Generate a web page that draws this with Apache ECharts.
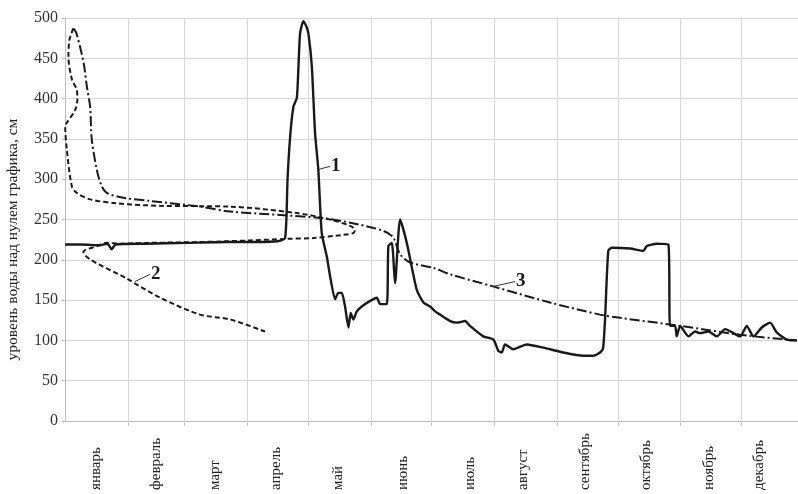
<!DOCTYPE html>
<html>
<head>
<meta charset="utf-8">
<script src="https://cdn.jsdelivr.net/npm/echarts@6/dist/echarts.min.js"></script>
<style>html,body{margin:0;padding:0;background:#fff}#c{width:798px;height:494px}</style>
</head>
<body>
<div id="c"></div>
<script>
// Month names (x-axis labels), their label positions (day of year) and month boundaries
const monthNames = ['январь','февраль','март','апрель','май','июнь','июль','август','сентябрь','октябрь','ноябрь','декабрь'];
const labelDays = [15.5, 45, 74, 104, 135, 167, 200, 226, 257, 287, 318, 343];
const monthStarts = [31, 59, 90, 120, 151, 181, 212, 243, 273, 304, 334];

// y-axis ticks
const yMin = 0, yMax = 500, yStep = 50;
const yTitle = 'уровень воды над нулем графика, см';

// Series 1 (solid): [day, level cm]
const series1 = [
  [0,219],[8,219],[17,218],[21,220],[23,213],[25,219],[40,220],[60,221],[80,222],[95,222],[105,223],[108.7,227],
  [109.9,300],[111.2,353],[112.8,390],[114.5,401],[115.3,440],[116.1,481],[117.7,496],[119.1,490],[120.2,481],
  [121.9,440],[123.5,357],[125.1,312],[126.8,233],[129.3,204],[130.9,180],[133.4,151],[135.0,159],[136.7,159],
  [138.3,142],[140.0,116],[141.1,134],[142.4,126],[144.1,136],[146.6,142],[150.7,149],[154.0,153],[155.6,145],
  [158.9,145],[159.7,217],[161.4,221],[163.0,171],[165.5,250],[168.8,221],[173.7,163],[177.0,147],[180.3,142],
  [182.8,136],[185.2,132],[190.2,124],[193.5,122],[197.6,124],[200.0,118],[206.6,105],[211.6,101],[214.0,87],
  [215.7,85],[217.3,95],[221.4,89],[228.0,95],[236.2,91],[246.1,85],[256.0,81],[260.9,81],[264.2,85],[265.7,90],
  [266.7,126],[268.3,211],[270.0,215],[279.1,214],[285.6,211],[287.3,217],[292.2,220],[298.0,219],[298.8,118],
  [301.3,118],[302.1,105],[303.8,118],[307.9,105],[311.2,111],[313.6,109],[317.7,111],[321.9,105],[326.0,114],
  [333.4,105],[336.7,118],[340.0,105],[344.1,116],[348.2,122],[351.5,110],[356.4,101],[361.4,100]
];

// Series 2 (dashed loop): [day, level cm]
const series2 = [
  [4.1,487],[2.2,473],[1.7,452],[3.4,424],[5.8,411],[6.1,399],[5.0,386],[0.9,370],[0.1,366],[0.9,337],
  [3.4,291],[5.8,283],[12.4,275],[25.6,270],[47.0,267],[81.5,266],[114.5,258],[130.9,250],[140.8,242],
  [143.2,237],[142.3,233],[137.5,231],[122.7,227],[109.5,226],[91.4,224],[66.7,222],[42.0,221],[27.2,220],
  [20.8,221],[15.7,217],[9.1,210],[31.0,176],[47.0,153],[66.7,132],[81.5,126],[98.8,111]
];

// Series 3 (dash-dot): [day, level cm]
const series3 = [
  [4.1,487],[5.5,482],[8.3,455],[9.5,440],[10.8,415],[12.4,390],[13.2,350],[15.7,312],[18,292],[20.6,283],
  [28.8,277],[42,273],[66.7,266],[81.5,260],[125.9,252],[140.9,246],[157.1,236],[162,228],[165.5,207],
  [170.2,197],[181.8,190],[190.2,182],[211.4,167],[239.5,147],[264.2,132],[274.1,128],[303.8,118],
  [333.4,107],[361.4,100]
];

// Annotation leaders: [start, end] in [day, cm]
const leader1 = [[125.1,312],[130.9,316]];
const leader2 = [[34.6,173],[42.0,182]];
const leader3 = [[211.6,167],[222.3,173]];

const serif = '"Liberation Serif","Times New Roman",serif';
const ink = '#1a1a1a';

function annot(pts, txt){
  return {
    symbol: 'none', silent: true,
    lineStyle: {color: '#333', width: 1, type: 'solid'},
    label: {show: true, position: 'end', formatter: txt, fontFamily: serif, fontWeight: 'bold', fontSize: 19, color: ink, distance: 1},
    emphasis: {disabled: true},
    data: [[{coord: pts[0]}, {coord: pts[1]}]]
  };
}

const chart = echarts.init(document.getElementById('c'), null, {renderer: 'canvas'});
chart.setOption({
  animation: false,
  backgroundColor: '#fff',
  grid: {left: 65, right: 0, top: 18, bottom: 73, containLabel: false, outerBoundsMode: 'none'},
  xAxis: {
    type: 'value', min: 0, max: 362,
    axisLine: {show: true, lineStyle: {color: '#bdbdbd', width: 1}},
    axisTick: {show: true, length: 5, customValues: monthStarts, lineStyle: {color: '#c8c8c8'}},
    splitLine: {show: true, lineStyle: {color: '#d6d6d6', width: 1}},
    axisLabel: {
      show: true, customValues: labelDays, rotate: 90, align: 'left', verticalAlign: 'middle', margin: 69,
      fontFamily: serif, fontSize: 15, color: '#222',
      formatter: function(v){ const i = labelDays.indexOf(v); return i >= 0 ? monthNames[i] : ''; }
    }
  },
  yAxis: {
    type: 'value', min: yMin, max: yMax, interval: yStep,
    name: yTitle, nameLocation: 'middle', nameRotate: 90, nameGap: 44,
    nameTextStyle: {fontFamily: serif, fontSize: 15.5, color: '#222', padding: [0, 40, 0, 0]},
    axisLine: {show: true, lineStyle: {color: '#bdbdbd', width: 1}},
    axisTick: {show: true, length: 3, lineStyle: {color: '#bdbdbd'}},
    splitLine: {show: true, lineStyle: {color: '#d6d6d6', width: 1}},
    axisLabel: {fontFamily: serif, fontSize: 16, color: '#333', margin: 7}
  },
  series: [
    {name: '1', type: 'line', data: series1, showSymbol: false, smooth: 0.2,
     lineStyle: {color: ink, width: 2.4}, markLine: annot(leader1, '1'), z: 4},
    {name: '2', type: 'line', data: series2, showSymbol: false, smooth: 0.3,
     lineStyle: {color: ink, width: 2, type: [5, 3]}, markLine: annot(leader2, '2'), z: 3},
    {name: '3', type: 'line', data: series3, showSymbol: false, smooth: 0.3,
     lineStyle: {color: ink, width: 2, type: [10, 3, 2, 3]}, markLine: annot(leader3, '3'), z: 3}
  ]
});
</script>
</body>
</html>
